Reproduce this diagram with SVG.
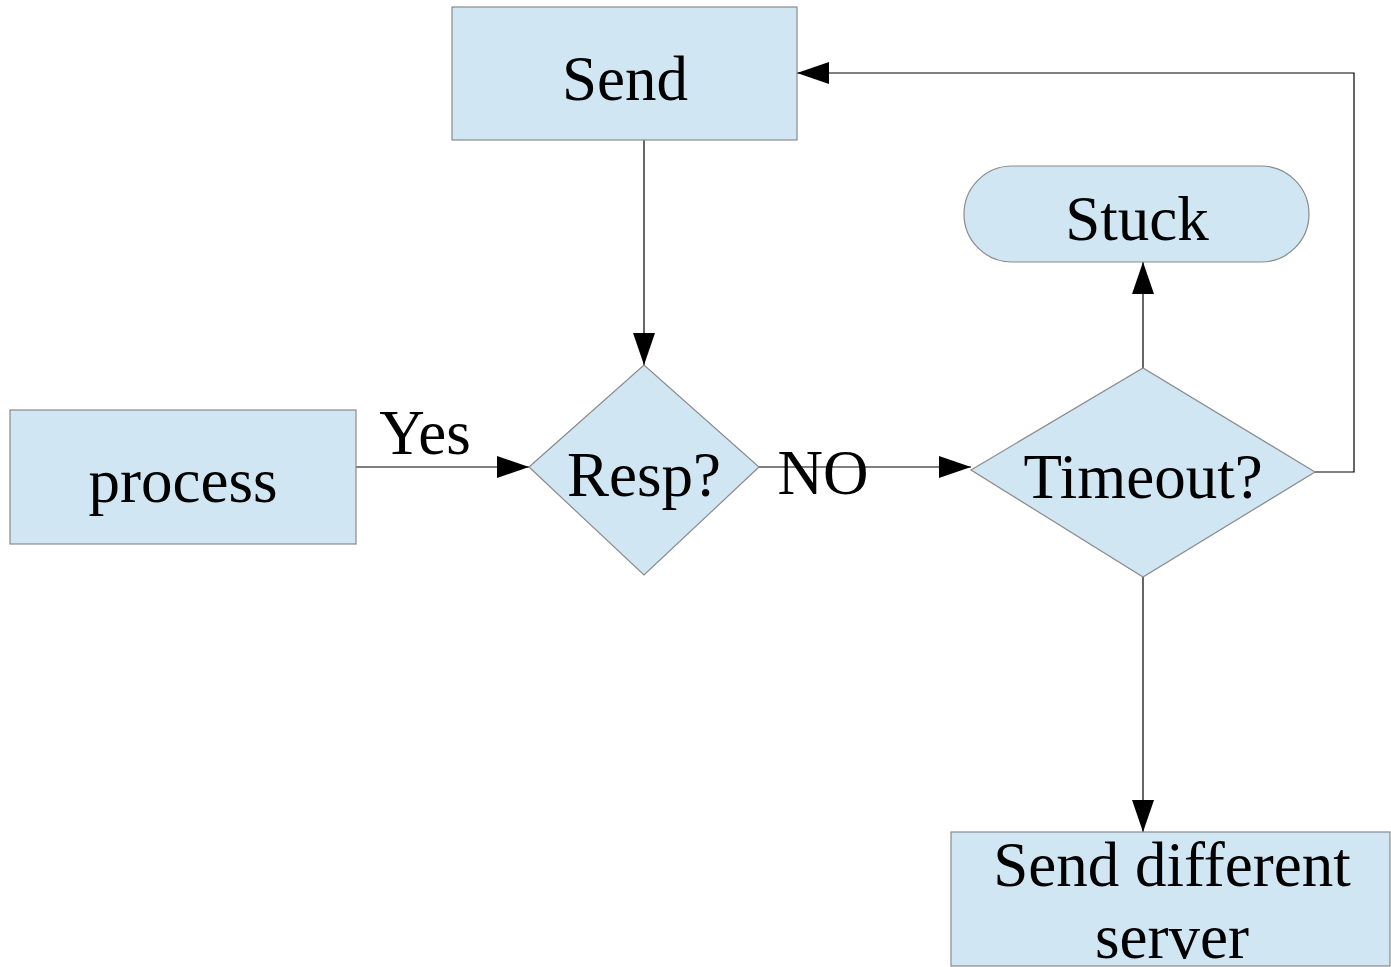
<svg xmlns="http://www.w3.org/2000/svg" width="1391" height="967" viewBox="0 0 1391 967">
<style>
.node{fill:#d0e6f3;stroke:#8a8a8a;stroke-width:1.2}
.lbl{font-family:"Liberation Serif","Times New Roman",serif;font-size:63px;fill:#000;text-anchor:middle}
.edge{fill:none;stroke:#000;stroke-width:1.2}
</style>
<defs>
<marker id="arr" markerUnits="userSpaceOnUse" markerWidth="34" markerHeight="22" refX="32" refY="11" orient="auto">
<path d="M0,0 L32,11 L0,22 Z" fill="#000"/>
</marker>
</defs>
<rect width="1391" height="967" fill="#fff"/>
<g id="connectors">
<line class="edge" x1="644" y1="140" x2="644" y2="365" marker-end="url(#arr)"/>
<line class="edge" x1="356" y1="467" x2="529" y2="467" marker-end="url(#arr)"/>
<line class="edge" x1="759" y1="467" x2="971" y2="467" marker-end="url(#arr)"/>
<line class="edge" x1="1143" y1="368" x2="1143" y2="262" marker-end="url(#arr)"/>
<polyline class="edge" points="1315,472 1354,472 1354,73 797,73" marker-end="url(#arr)"/>
<line class="edge" x1="1143" y1="577" x2="1143" y2="832" marker-end="url(#arr)"/>
<text class="lbl" x="425" y="454">Yes</text>
<text class="lbl" x="823" y="494">NO</text>
</g>
<g id="send">
<rect class="node" x="452" y="7" width="345" height="133"/>
<text class="lbl" x="625" y="100">Send</text>
</g>
<g id="stuck">
<rect class="node" x="964" y="166" width="345" height="96" rx="48" ry="48"/>
<text class="lbl" x="1137" y="240">Stuck</text>
</g>
<g id="process">
<rect class="node" x="10" y="410" width="346" height="134"/>
<text class="lbl" x="183" y="502">process</text>
</g>
<g id="resp">
<polygon class="node" points="529,467 644,365 759,467 644,575"/>
<text class="lbl" x="644" y="496">Resp?</text>
</g>
<g id="timeout">
<polygon class="node" points="971,470 1143,368 1315,472 1143,577"/>
<text class="lbl" x="1143" y="498">Timeout?</text>
</g>
<g id="senddiff">
<rect class="node" x="951" y="832" width="439" height="134"/>
<text class="lbl" x="1172" y="886">Send different</text>
<text class="lbl" x="1172" y="958">server</text>
</g>
</svg>
